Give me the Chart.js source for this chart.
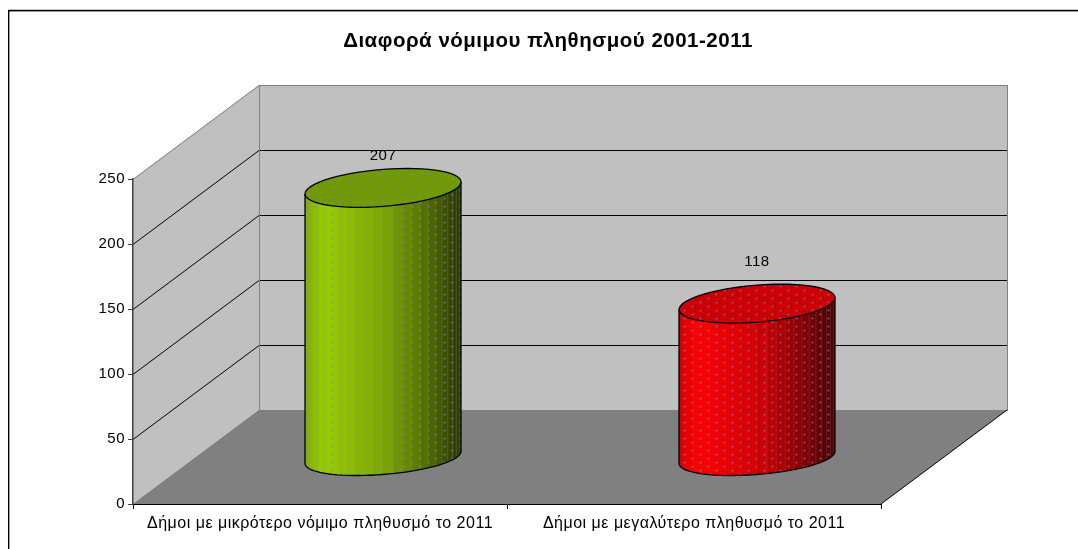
<!DOCTYPE html>
<html>
<head>
<meta charset="utf-8">
<title>Διαφορά νόμιμου πληθησμού 2001-2011</title>
<script src="https://cdn.jsdelivr.net/npm/chart.js@4"></script>
<style>
  html, body { margin: 0; padding: 0; background: #fff; }
  #chartContainer { width: 1078px; height: 549px; }
</style>
</head>
<body>
<div id="chartContainer"><canvas id="comparisonChart"></canvas></div>
<script>
const categories = ['Δήμοι με μικρότερο νόμιμο πληθυσμό το 2011', 'Δήμοι με μεγαλύτερο πληθυσμό το 2011'];
const seriesValues = [207, 118];
const yTickValues = [0, 50, 100, 150, 200, 250];
const barColors = [[153, 204, 0], [255, 0, 0]];
const topColors = ['#709a00', '#cc0000'];
const labelLift = [32, 42];
const chartTitle = 'Διαφορά νόμιμου πληθησμού 2001-2011';

// depth of the fake 3d box
const DX = 126, DY = -94;
const FONT = '"Liberation Sans", Arial, sans-serif';

function dotPattern(ctx) {
    const c = document.createElement('canvas');
    c.width = 16; c.height = 8;
    const p = c.getContext('2d');
    p.fillStyle = 'rgba(128,128,230,0.65)';
    p.beginPath(); p.arc(4.5, 2.5, 1.1, 0, Math.PI * 2); p.fill();
    p.beginPath(); p.arc(12.5, 6.5, 1.1, 0, Math.PI * 2); p.fill();
    return ctx.createPattern(c, 'repeat');
}

function shade(u) {
    const pts = [[0, .84], [.12, 1], [.5, .82], [.75, .56], [1, .27]];
    for (let i = 1; i < pts.length; i++) {
        if (u <= pts[i][0]) {
            const t = (u - pts[i - 1][0]) / (pts[i][0] - pts[i - 1][0]);
            return pts[i - 1][1] + t * (pts[i][1] - pts[i - 1][1]);
        }
    }
    return .27;
}

function ringPoint(cx, cy, rx, b, t) {
    return [cx + rx * Math.cos(t), cy - 6 * Math.cos(t) + b * Math.sin(t)];
}

function drawCylinder(ctx, bar, i) {
    const rx = bar.width / 2, cx = bar.x + DX / 2;
    const topY = bar.y - 47, baseY = bar.base - 46;
    const rgb = barColors[i];
    const pattern = dotPattern(ctx);
    const steps = 26;

    // body strips, left to right
    ctx.save();
    ctx.beginPath();
    for (let s = 0; s <= 40; s++) {
        const p = ringPoint(cx, baseY, rx, 17, Math.PI - Math.PI * s / 40);
        s ? ctx.lineTo(p[0], p[1]) : ctx.moveTo(p[0], p[1]);
    }
    ctx.lineTo(cx + rx, topY - 6);
    ctx.lineTo(cx - rx, topY + 6);
    ctx.closePath();
    ctx.clip();
    for (let s = 0; s < steps; s++) {
        const x0 = cx - rx * Math.cos(Math.PI * s / steps);
        const x1 = cx - rx * Math.cos(Math.PI * (s + 1) / steps);
        const f = shade(((x0 + x1) / 2 - (cx - rx)) / (2 * rx));
        ctx.fillStyle = `rgb(${rgb.map(v => Math.round(v * f)).join(',')})`;
        ctx.fillRect(x0, topY - 30, x1 - x0 + 1, baseY - topY + 60);
        if (x0 > cx) {
            ctx.fillStyle = 'rgba(255,255,255,0.12)';
            ctx.fillRect(x0, topY - 30, 1, baseY - topY + 60);
        }
    }
    ctx.fillStyle = pattern;
    ctx.fillRect(cx - rx, topY - 30, 2 * rx, baseY - topY + 60);
    ctx.restore();

    // outline of the sides and bottom
    ctx.strokeStyle = '#000';
    ctx.lineWidth = 1.3;
    ctx.beginPath();
    ctx.moveTo(cx - rx, topY + 6);
    for (let s = 0; s <= 40; s++) {
        const p = ringPoint(cx, baseY, rx, 17, Math.PI - Math.PI * s / 40);
        ctx.lineTo(p[0], p[1]);
    }
    ctx.lineTo(cx + rx, topY - 6);
    ctx.stroke();

    // top face
    ctx.beginPath();
    for (let s = 0; s < 60; s++) {
        const p = ringPoint(cx, topY, rx, 18.5, Math.PI * 2 * s / 60);
        s ? ctx.lineTo(p[0], p[1]) : ctx.moveTo(p[0], p[1]);
    }
    ctx.closePath();
    ctx.fillStyle = topColors[i];
    ctx.fill();
    ctx.fillStyle = pattern;
    ctx.fill();
    ctx.stroke();
}

const box3d = {
    id: 'box3d',
    beforeDraw(chart) {
        const { ctx, scales: { x, y } } = chart;
        const l = x.left, r = x.right, b = y.bottom;
        const py = v => y.getPixelForValue(v);
        const top = py(yTickValues[yTickValues.length - 1]);
        ctx.save();

        // outer frame, only top and left in the picture
        ctx.fillStyle = '#c4c4c4';
        ctx.fillRect(8, 9, 1070, 1);
        ctx.fillStyle = '#000';
        ctx.fillRect(8, 10, 1070, 1.4);
        ctx.fillRect(8, 10, 1.4, 539);

        // side wall
        ctx.fillStyle = '#c0c0c0';
        ctx.beginPath();
        ctx.moveTo(l, top);
        ctx.lineTo(l + DX, top + DY);
        ctx.lineTo(l + DX, b + DY);
        ctx.lineTo(l, b);
        ctx.closePath();
        ctx.fill();
        // back wall
        ctx.fillRect(l + DX, top + DY, r - l, b - top);

        // grid lines along both walls
        ctx.lineWidth = 1;
        yTickValues.forEach((v, n) => {
            const edge = n === 0 || n === yTickValues.length - 1;
            const yy = Math.round(py(v)) + 0.5;
            ctx.strokeStyle = edge ? '#808080' : '#000';
            ctx.beginPath();
            ctx.moveTo(l, yy);
            ctx.lineTo(l + DX, yy + DY);
            ctx.lineTo(r + DX, yy + DY);
            ctx.stroke();
        });
        ctx.strokeStyle = '#808080';
        ctx.strokeRect(l + DX + .5, top + DY + .5, r - l, b - top);

        // floor
        ctx.fillStyle = '#808080';
        ctx.beginPath();
        ctx.moveTo(l, b);
        ctx.lineTo(r, b);
        ctx.lineTo(r + DX, b + DY);
        ctx.lineTo(l + DX, b + DY);
        ctx.closePath();
        ctx.fill();
        ctx.strokeStyle = '#000';
        ctx.beginPath();
        ctx.moveTo(r, b);
        ctx.lineTo(r + DX, b + DY);
        ctx.stroke();
        ctx.restore();

        // the original text runs a bit wider than Liberation Sans
        ctx.letterSpacing = '0.5px';
    },
    afterDatasetsDraw(chart) {
        const { ctx } = chart;
        const bars = chart.getDatasetMeta(0).data;
        ctx.save();
        bars.forEach((bar, i) => drawCylinder(ctx, bar, i));
        ctx.fillStyle = '#000';
        ctx.font = '15px ' + FONT;
        ctx.textAlign = 'center';
        ctx.textBaseline = 'middle';
        bars.forEach((bar, i) => {
            ctx.fillText(String(seriesValues[i]), bar.x + DX / 2, bar.y - 47 - labelLift[i]);
        });
        ctx.restore();
    }
};

new Chart(document.getElementById('comparisonChart'), {
    type: 'bar',
    data: {
        labels: categories,
        datasets: [{
            data: seriesValues,
            backgroundColor: 'transparent',
            borderWidth: 0,
            barPercentage: 0.417,
            categoryPercentage: 1
        }]
    },
    options: {
        responsive: true,
        maintainAspectRatio: false,
        animation: false,
        layout: { padding: { left: 18, right: 0, top: 0, bottom: 0 } },
        plugins: {
            legend: { display: false },
            tooltip: { enabled: false },
            title: {
                display: true,
                text: chartTitle,
                color: '#000',
                font: { family: FONT, size: 20.5, weight: 'bold', lineHeight: 1.2 },
                padding: { top: 28.7, bottom: 125.7 }
            }
        },
        scales: {
            x: {
                grid: { offset: true, drawOnChartArea: false, color: '#000', tickLength: 5 },
                border: { color: '#000' },
                ticks: { color: '#000', font: { family: FONT, size: 16 }, padding: 5, maxRotation: 0, autoSkip: false },
                afterFit(scale) { scale.height = 45; }
            },
            y: {
                min: 0,
                max: yTickValues[yTickValues.length - 1],
                grid: { drawOnChartArea: false, color: '#404040', tickLength: 5 },
                border: { color: '#404040', width: 1.5 },
                ticks: { color: '#000', font: { family: FONT, size: 15 }, padding: 3, stepSize: 50 },
                afterFit(scale) { scale.width = 115; }
            },
            // empty axis, only holds the space right of the box
            spacer: {
                position: 'right',
                grid: { display: false },
                border: { display: false },
                ticks: { display: false },
                afterFit(scale) { scale.width = 197; }
            }
        }
    },
    plugins: [box3d]
});
</script>
</body>
</html>
